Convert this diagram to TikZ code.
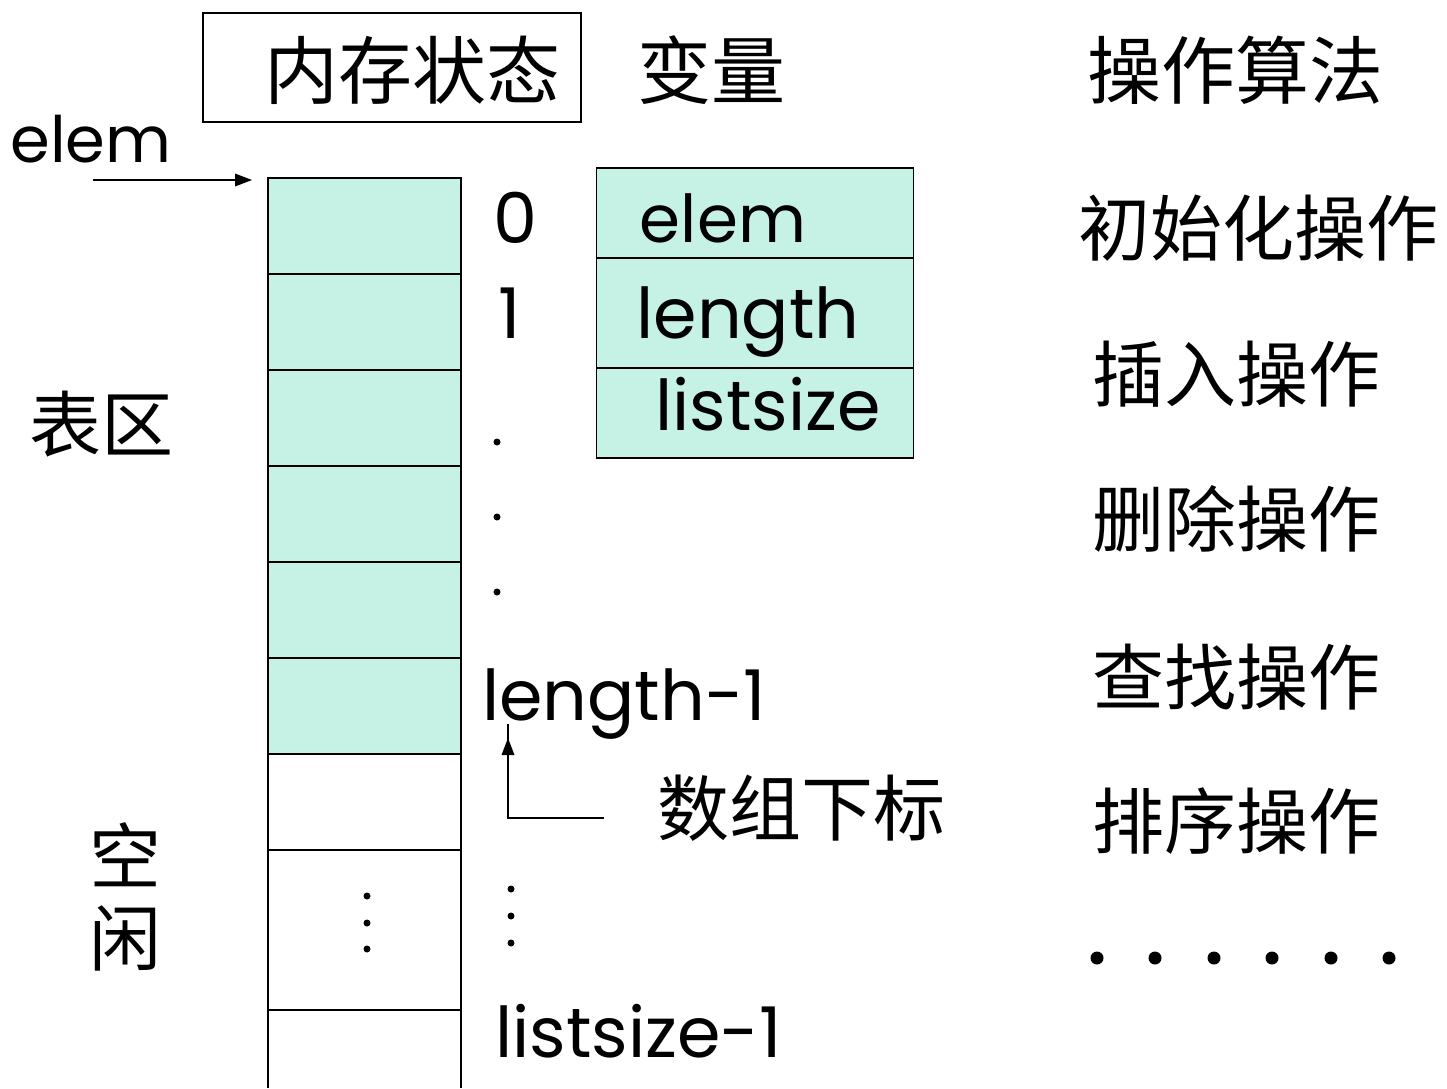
\documentclass[tikz,border=0pt]{standalone}
\usepackage{fontspec}
\newfontfamily\lat{Poppins}
\newfontfamily\cjk{Noto Sans CJK SC}
\usetikzlibrary{arrows.meta}
\definecolor{cellfill}{RGB}{198,242,230}
\tikzset{
  cell/.style={draw=black, line width=1.3pt, minimum width=193pt, inner sep=0pt, outer sep=0pt},
  full/.style={cell, fill=cellfill, minimum height=96pt},
  varbox/.style={draw=black, line width=1.3pt, fill=cellfill, minimum width=317pt, inner sep=0pt, outer sep=0pt},
  zh/.style={font=\cjk\fontsize{72}{80}\selectfont, inner sep=0pt},
  en/.style={font=\lat\fontsize{70}{80}\selectfont, inner sep=0pt, anchor=base},
  dotmark/.style={fill=black, circle, inner sep=0pt, minimum size=7pt},
  bigdot/.style={fill=black, circle, inner sep=0pt, minimum size=13pt},
  conn/.style={line width=1.3pt},
  headfill/.style={fill=black}
}
\begin{document}
\begin{tikzpicture}[x=1pt,y=-1pt]
\useasboundingbox (0,0) rectangle (1447,1088);
\fill[white] (0,0) rectangle (1447,1088);
% title box
\node[draw=black, line width=1.3pt, minimum width=378pt, minimum height=109pt, inner sep=0pt] (tbox) at (392,67.5) {};
\node[zh, font=\cjk\fontsize{74}{80}\selectfont] (tt) at (412,70) {内存状态};
\node[zh, font=\cjk\fontsize{74}{80}\selectfont] (var) at (711,70) {变量};
\node[zh, font=\cjk\fontsize{74}{80}\selectfont] (ops) at (1235,70) {操作算法};
% elem pointer
\node[en, font=\lat\fontsize{64}{70}\selectfont] (elemlab) at (91,162) {elem};
\coordinate (ptrstart) at (93,180);
% memory cells
\node[full] (c0) at (364.5,226) {};
\node[full] (c1) at (364.5,322) {};
\node[full] (c2) at (364.5,418) {};
\node[full] (c3) at (364.5,514) {};
\node[full] (c4) at (364.5,610) {};
\node[full] (c5) at (364.5,706) {};
\node[cell, minimum height=96pt] (c6) at (364.5,802) {};
\node[cell, minimum height=160pt] (c7) at (364.5,930) {};
\node[minimum width=193pt, minimum height=78pt, inner sep=0pt, outer sep=0pt] (c8) at (364.5,1049) {};
\draw[conn] (c8.south west) -- (c8.north west) -- (c8.north east) -- (c8.south east);
\coordinate (ptrtip) at (252,180);
\draw[conn] (ptrstart) -- ([xshift=-14pt]ptrtip);
\fill[headfill] (ptrtip) -- ++(-17,-6.5) -- ++(0,13) -- cycle;
% dots inside column
\node[dotmark] (d1) at (367,896) {};
\node[dotmark] (d2) at (367,923) {};
\node[dotmark] (d3) at (367,949) {};
% index labels
\node[en] (i0) at (515,243) {0};
\node[en] (i1) at (510,338) {1};
\node[dotmark] (e1) at (497,442) {};
\node[dotmark] (e2) at (497,517) {};
\node[dotmark] (e3) at (497,592) {};
\node[en, anchor=base west] (ilen) at (482,720) {length-1};
\coordinate (elbow) at (508,818);
\coordinate (elbowend) at (604,818);
\coordinate (uptip) at (508,738);
\draw[conn] (elbowend) -- (elbow) -- ([yshift=14pt]uptip);
\fill[headfill] (uptip) -- ++(-6.5,17) -- ++(13,0) -- cycle;
\node[zh] (sub) at (801,808) {数组下标};
\node[dotmark] (f1) at (511,889) {};
\node[dotmark] (f2) at (511,916) {};
\node[dotmark] (f3) at (511,943) {};
\node[en, anchor=base west] (ilist) at (495,1057) {listsize-1};
% variable box
\node[varbox, minimum height=90pt] (vElem) at (755,213) {};
\node[varbox, minimum height=110pt] (vLen) at (755,313) {};
\node[varbox, minimum height=90pt] (vSize) at (755,413) {};
\node[en, font=\lat\fontsize{66}{70}\selectfont] (tElem) at (723,242) {elem};
\node[en] (tLen) at (748,338) {length};
\node[en] (tSize) at (768,430) {listsize};
% side labels
\node[zh] (biao) at (101,424) {表区};
\node[zh] (kong) at (125,855) {空};
\node[zh] (xian) at (125,938) {闲};
% operations
\node[zh] (op1) at (1258,228) {初始化操作};
\node[zh] (op2) at (1236,374) {插入操作};
\node[zh] (op3) at (1236,519) {删除操作};
\node[zh] (op4) at (1236,677) {查找操作};
\node[zh] (op5) at (1236,821) {排序操作};
\foreach \i/\x in {1/1097,2/1155,3/1214,4/1272,5/1331,6/1389}
  \node[bigdot] (g\i) at (\x,958) {};
\end{tikzpicture}
\end{document}
